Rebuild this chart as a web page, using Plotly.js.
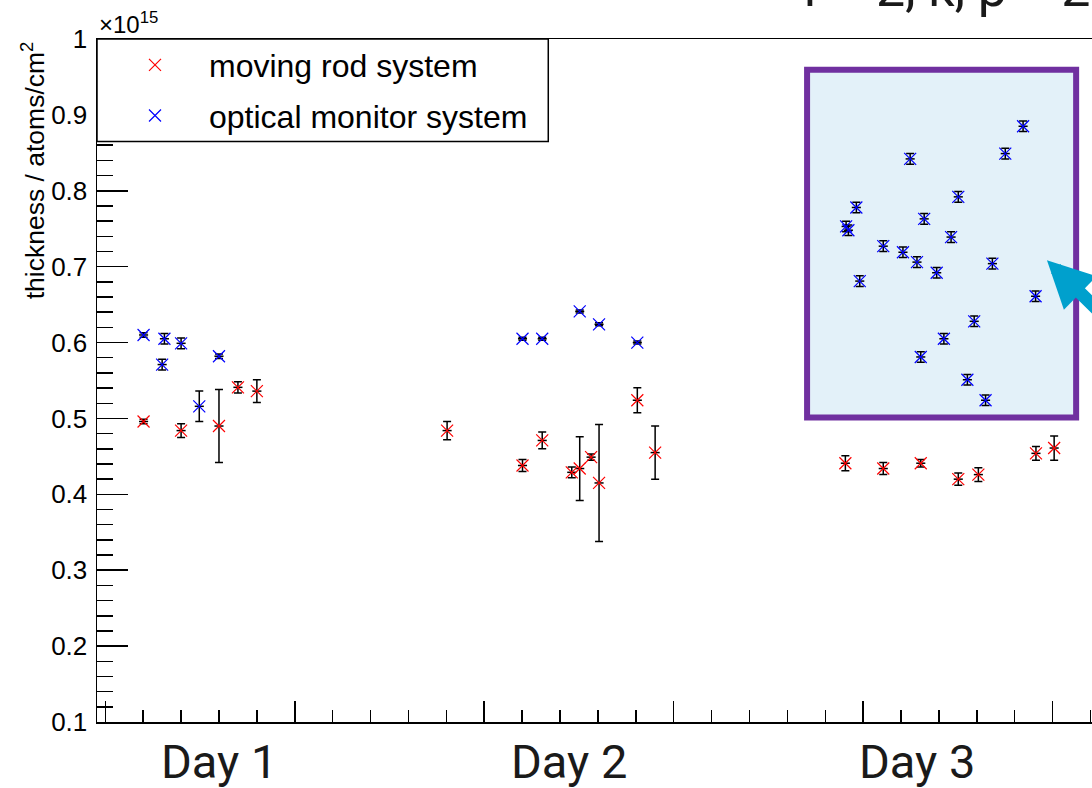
<!DOCTYPE html>
<html>
<head>
<meta charset="utf-8">
<script src="https://cdn.plot.ly/plotly-3.0.1.min.js"></script>
<style>
  html, body { margin: 0; padding: 0; background: #ffffff; overflow: hidden; }
  #chart { width: 1110px; height: 788px; }
</style>
</head>
<body>
<div id="chart"></div>
<script>
// ---- data (thickness in units of 1e15 atoms/cm^2) ----
const rodName = 'moving rod system';
const rodX = [1.01, 2.0, 3.0, 3.5, 4.0,
              9.02, 11.01, 11.53, 12.31, 12.52, 12.82, 13.03, 14.04, 14.51,
              19.53, 20.53, 21.52, 22.51, 23.04, 24.56, 25.04];
const rodY = [0.496, 0.484, 0.490, 0.541, 0.536,
              0.484, 0.438, 0.471, 0.429, 0.434, 0.449, 0.415, 0.524, 0.455,
              0.441, 0.434, 0.441, 0.420, 0.426, 0.454, 0.461];
const rodErr = [0.003, 0.009, 0.048, 0.0075, 0.015,
                0.012, 0.008, 0.011, 0.007, 0.042, 0.004, 0.077, 0.0165, 0.035,
                0.010, 0.008, 0.005, 0.008, 0.009, 0.009, 0.016];

const optName = 'optical monitor system';
const optX = [1.01, 1.56, 1.50, 2.0, 2.48, 3.0,
              11.01, 11.53, 12.52, 13.03, 14.04,
              24.22, 23.75, 21.24, 22.51, 19.82, 21.61, 19.55, 19.61, 22.32, 20.53,
              21.05, 21.42, 23.41, 21.94, 19.91, 24.55, 22.93, 22.13, 21.52, 22.75, 23.23];
const optY = [0.610, 0.605, 0.571, 0.599, 0.516, 0.582,
              0.605, 0.605, 0.641, 0.624, 0.600,
              0.885, 0.849, 0.842, 0.792, 0.778, 0.763, 0.753, 0.748, 0.739, 0.727,
              0.719, 0.706, 0.704, 0.692, 0.681, 0.661, 0.628, 0.605, 0.581, 0.551, 0.524];
const optErr = [0.003, 0.007, 0.007, 0.007, 0.020, 0.003,
                0.002, 0.002, 0.002, 0.002, 0.002,
                0.007, 0.007, 0.007, 0.007, 0.007, 0.007, 0.007, 0.007, 0.007, 0.007,
                0.007, 0.007, 0.007, 0.007, 0.007, 0.007, 0.007, 0.007, 0.007, 0.007, 0.007];

const dayLabels = ['Day 1', 'Day 2', 'Day 3'];
const yAxisTitle = 'thickness / atoms/cm<sup>2</sup>';
const exponentLabel = '×10<sup>15</sup>';
const headerText = 'r = 2, k, p = 2';

// ---- styling ----
const ROOTFONT = 'Liberation Sans, Arial, Helvetica, sans-serif';
const SLIDEFONT = 'Roboto, Liberation Sans, sans-serif';

function pointTrace(name, xs, ys, es, color, group) {
  return {
    type: 'scatter', mode: 'markers', name: name,
    x: xs, y: ys, legendgroup: group,
    marker: { symbol: 'x-thin-open', size: 12, color: color, line: { color: color, width: 1.2 } },
    error_y: { type: 'data', array: es, visible: true, color: 'black', thickness: 1.5, width: 4 },
    error_x: { type: 'constant', value: 0.12, visible: true, color: 'black', thickness: 1.5, width: 0 },
    cliponaxis: false
  };
}

const traces = [
  pointTrace(rodName, rodX, rodY, rodErr, '#ff0000', 'a'),
  pointTrace(optName, optX, optY, optErr, '#0000ff', 'b')
];

const dayX = [3.01, 12.24, 21.42];
const annotations = dayLabels.map((t, i) => ({
  text: t, xref: 'x', yref: 'paper', x: dayX[i], y: -0.058,
  xanchor: 'center', yanchor: 'middle', showarrow: false,
  font: { family: SLIDEFONT, size: 47, color: '#1a1a1a' }
}));
annotations.push({
  text: yAxisTitle, xref: 'paper', yref: 'paper', x: -0.0635, y: 1.0,
  xanchor: 'center', yanchor: 'top', textangle: -90, showarrow: false,
  font: { family: ROOTFONT, size: 26.5, color: 'black' }
});
annotations.push({
  text: exponentLabel, xref: 'paper', yref: 'paper', x: 0, y: 0.998,
  xanchor: 'left', yanchor: 'bottom', showarrow: false,
  font: { family: ROOTFONT, size: 24, color: 'black' }
});
annotations.push({
  text: headerText, xref: 'paper', yref: 'paper', x: 0.703, y: 1.026,
  xanchor: 'left', yanchor: 'bottom', showarrow: false,
  font: { family: SLIDEFONT, size: 52, color: '#1a1a1a' }
});
annotations.push({
  text: '', xref: 'x', yref: 'y', x: 24.85, y: 0.7086,
  showarrow: true, ax: 80, ay: 62, arrowhead: 2, arrowsize: 0.72, arrowwidth: 13,
  arrowcolor: '#00a0cd', standoff: 0
});

const layout = {
  width: 1110, height: 788,
  margin: { l: 96.7, r: 10, t: 39.3, b: 66.3, pad: 0 },
  paper_bgcolor: '#ffffff', plot_bgcolor: '#ffffff',
  showlegend: true,
  legend: {
    x: 0.004, xanchor: 'left', y: 1.002, yanchor: 'top',
    bgcolor: 'rgba(0,0,0,0)', borderwidth: 0,
    font: { family: ROOTFONT, size: 32, color: 'black' },
    itemwidth: 98, traceorder: 'grouped', tracegroupgap: 6
  },
  xaxis: {
    range: [-0.219, 26.25], showline: true, linecolor: 'black', linewidth: 1.5, mirror: true,
    ticks: 'inside', ticklen: 21, tickwidth: 1.5, tickcolor: 'black',
    tickmode: 'linear', tick0: 0, dtick: 5, showticklabels: false,
    showgrid: false, zeroline: false,
    minor: { ticks: 'inside', dtick: 1, tick0: 0, ticklen: 12, tickwidth: 1.5, tickcolor: 'black', showgrid: false }
  },
  yaxis: {
    range: [0.1, 1.0], showline: true, linecolor: 'black', linewidth: 1.5,
    ticks: 'inside', ticklen: 31, tickwidth: 1.5, tickcolor: 'black',
    tickmode: 'linear', tick0: 0.1, dtick: 0.1,
    tickfont: { family: ROOTFONT, size: 26, color: 'black' },
    ticklabelstandoff: 3,
    showgrid: false, zeroline: false,
    minor: { ticks: 'inside', dtick: 0.02, tick0: 0.1, ticklen: 16, tickwidth: 1.5, tickcolor: 'black', showgrid: false }
  },
  shapes: [
    { type: 'rect', xref: 'x', yref: 'y', x0: 18.52, x1: 25.62, y0: 0.5013, y1: 0.9595,
      line: { color: '#7030a0', width: 6 }, fillcolor: '#e3f1f9', layer: 'below' },
    { type: 'rect', xref: 'x', yref: 'y', x0: -0.219, x1: 11.69, y0: 0.8648, y1: 1.0,
      line: { color: 'black', width: 1.5 }, fillcolor: '#ffffff', layer: 'above' }
  ],
  annotations: annotations
};

Plotly.newPlot('chart', traces, layout, { staticPlot: true, displayModeBar: false });
</script>
</body>
</html>
